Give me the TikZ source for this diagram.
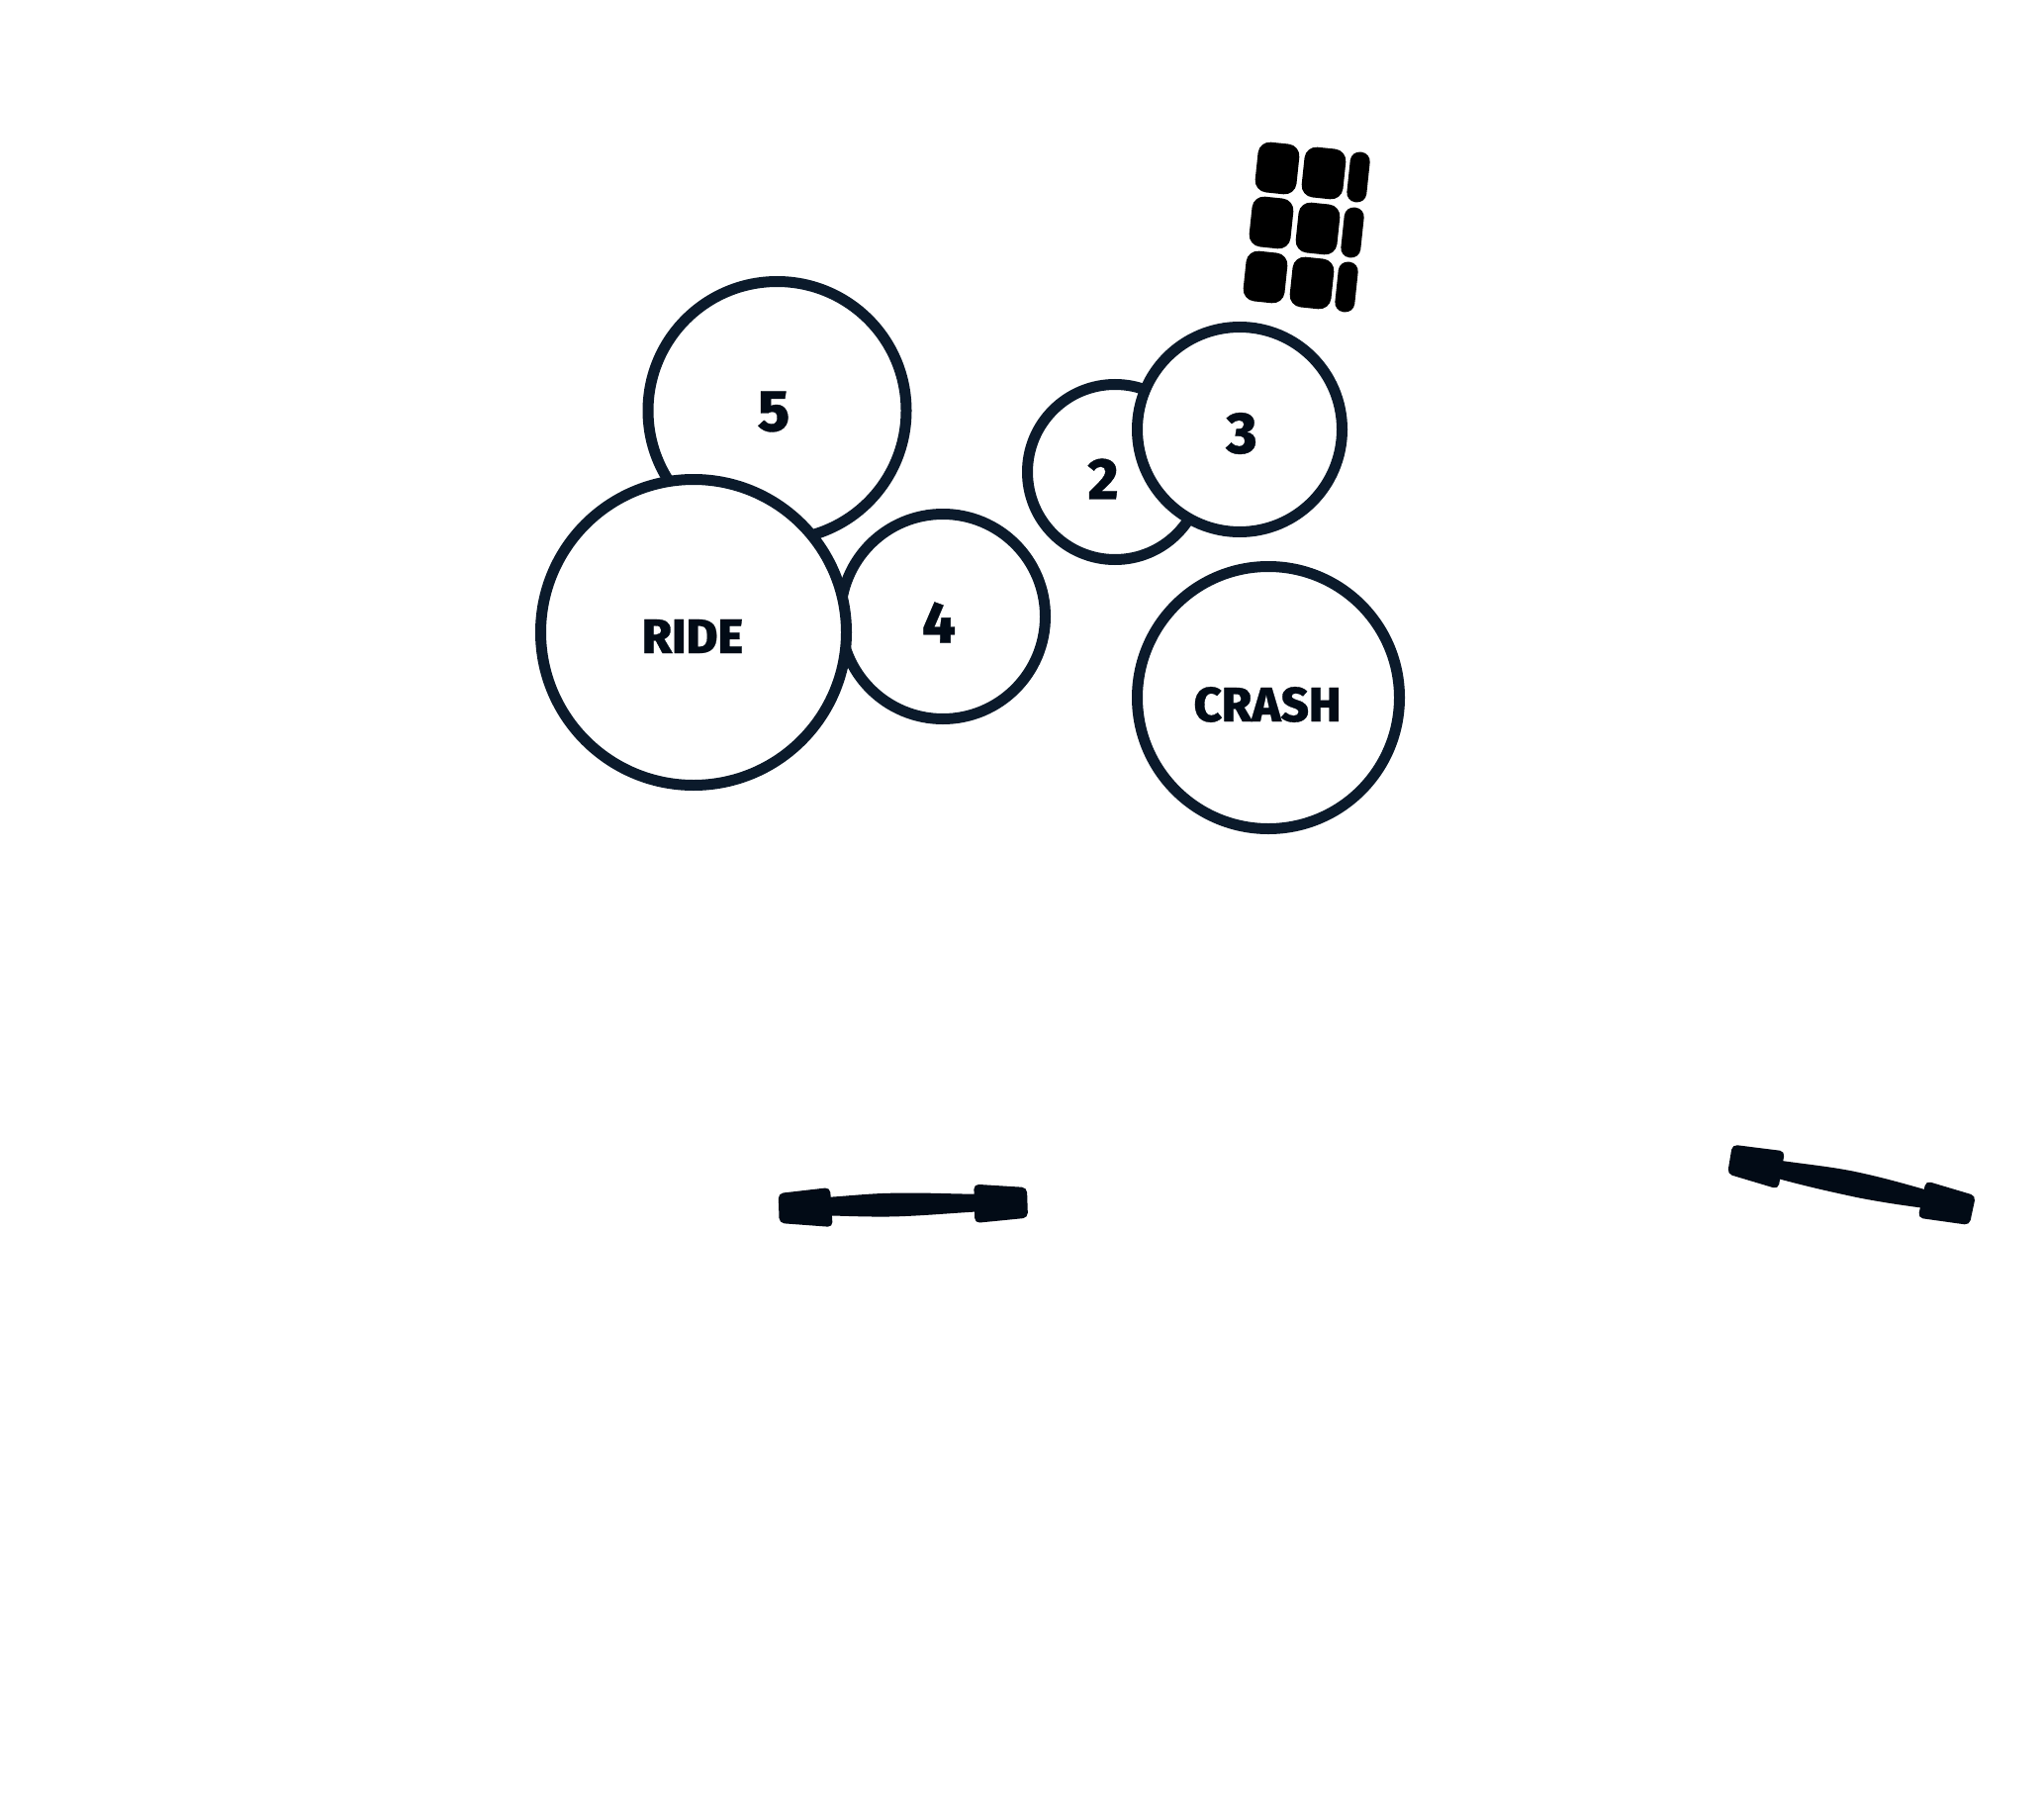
\documentclass[tikz,border=0pt]{standalone}
\usepackage{fontspec}
\newfontfamily\heavyfont[UprightFont=* ExtraBold,Numbers=Lining,FakeBold=0.6]{Fira Sans}
\definecolor{ringcol}{HTML}{0B1A2B}
\definecolor{inkcol}{HTML}{020B16}
\tikzset{
  drum/.style={circle,draw=ringcol,fill=white,line width=11pt,inner sep=0pt,minimum size=#1},
  wordlabel/.style={text=inkcol,font=\heavyfont\fontsize{49}{49}\selectfont,inner sep=0pt},
  numlabel/.style={text=inkcol,font=\heavyfont\fontsize{59}{59}\selectfont,inner sep=0pt},
  bigpad/.style={fill=black,rounded corners=12pt,inner sep=0pt,minimum width=42pt,minimum height=51pt,rotate=-6},
  slimpad/.style={fill=black,rounded corners=9.5pt,inner sep=0pt,minimum width=20pt,minimum height=51pt,rotate=-6},
  barshape/.style={fill=inkcol,rounded corners=5pt}
}
\begin{document}
\begin{tikzpicture}[x=1pt,y=-1pt]
\useasboundingbox (0,0) rectangle (2066,1819);
\fill[white] (0,0) rectangle (2066,1819);
% drums
\node[drum=261pt] (five) at (785.5,415) {};
\node[drum=207pt] (four) at (953,623) {};
\node[drum=309pt] (ride) at (701,639) {};
\node[drum=177pt] (two) at (1127,477) {};
\node[drum=207pt] (three) at (1253,434) {};
\node[drum=265pt] (crash) at (1282,705) {};
% labels
\node[numlabel] (t5) at (782,416) {5};
\node[wordlabel] (tride) at (700,643) {RIDE};
\node[numlabel] (t4) at (949,629) {4};
\node[numlabel] (t2) at (1115,484) {2};
\node[numlabel] (t3) at (1255,438) {3};
\node[wordlabel] (tcrash) at (1281,712) {CRASH};
% pads
\node[bigpad] (p11) at (1291,170) {};
\node[bigpad] (p12) at (1338,175) {};
\node[slimpad] (p13) at (1373,179) {};
\node[bigpad] (p21) at (1285,225) {};
\node[bigpad] (p22) at (1332,231) {};
\node[slimpad] (p23) at (1367,235) {};
\node[bigpad] (p31) at (1279,280) {};
\node[bigpad] (p32) at (1326,286) {};
\node[slimpad] (p33) at (1361,290) {};
% bar one
\begin{scope}[shift={(760,1180)},x=0.3333pt,y=-0.3333pt]
\fill[inkcol] (225,90) .. controls (300,85) and (370,77) .. (440,77) .. controls (530,75) and (600,80) .. (690,80) -- (690,133) .. controls (600,138) and (530,145) .. (440,148) .. controls (370,150) and (300,147) .. (225,145) -- cycle;
\fill[barshape] (80,78) -- (237,60) -- (245,180) -- (83,168) -- cycle;
\fill[barshape] (673,50) -- (834,60) -- (837,152) -- (676,168) -- cycle;
\end{scope}
% bar two
\begin{scope}[shift={(1730,1140)},x=0.3333pt,y=-0.3333pt]
\fill[inkcol] (205,98) .. controls (290,110) and (370,118) .. (440,133) .. controls (520,150) and (590,170) .. (660,190) -- (640,242) .. controls (570,233) and (500,222) .. (440,210) .. controls (360,193) and (280,175) .. (190,150) -- cycle;
\fill[barshape] (63,50) -- (222,70) -- (202,185) -- (48,139) -- cycle;
\fill[barshape] (650,160) -- (801,205) -- (782,294) -- (626,272) -- cycle;
\end{scope}
\end{tikzpicture}
\end{document}
